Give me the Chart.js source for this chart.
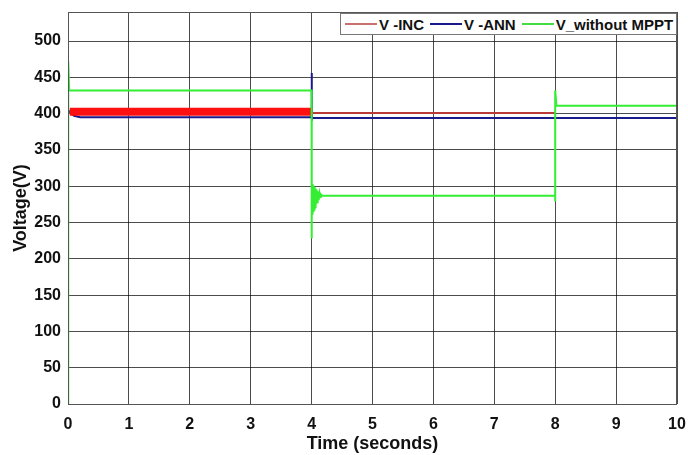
<!DOCTYPE html>
<html>
<head>
<meta charset="utf-8">
<script src="https://cdn.jsdelivr.net/npm/chart.js@4.4.0/dist/chart.umd.min.js"></script>
<style>
    html, body { margin: 0; padding: 0; background: #fff; }
    #wrap { position: relative; width: 688px; height: 455px; }
    #legend {
        position: absolute; left: 340px; top: 13px; width: 337px; height: 22px;
        border: 1px solid #777; background: #fff; box-sizing: border-box;
        font: bold 15px "Liberation Sans", Arial, sans-serif; color: #111;
        display: flex; align-items: center; white-space: nowrap;
    }
    #legend .sw { display: inline-block; width: 32px; height: 0; border-top: 2px solid; margin: 0 2px 0 4px; }
</style>
</head>
<body>
<div id="wrap">
    <canvas id="voltChart" width="688" height="455"></canvas>
    <div id="legend">
        <span class="sw" style="border-color:#c87070"></span>V -INC
        <span class="sw" style="border-color:#1a1a8c; margin-left:6px"></span>V -ANN
        <span class="sw" style="border-color:#44dd44; margin-left:6px"></span>V_without MPPT
    </div>
</div>
<script>
// values
const xTicks = [0, 1, 2, 3, 4, 5, 6, 7, 8, 9, 10];
const yTicks = [0, 50, 100, 150, 200, 250, 300, 350, 400, 450, 500];

// V -INC : thick oscillating band up to 4 s, then flat until 8 s
const incBandT = [0.03, 4.0];
const incBandV = [402.5, 402.5];
const incT = [4.0, 8.0];
const incV = [401, 401];

// V -ANN
const annT = [0, 0.05, 0.1, 0.2, 3.995, 4.0, 4.006, 8.0, 10];
const annV = [405, 400, 397, 395, 395, 456, 394, 394, 394];

// V_without MPPT (dense ringing after the 4 s step)
const woT = [0, 0.004, 0.02, 4.0, 4.0,
    4.004, 4.008, 4.012, 4.016, 4.02, 4.024, 4.028, 4.032, 4.036, 4.04,
    4.044, 4.048, 4.052, 4.056, 4.06, 4.064, 4.068, 4.072, 4.076, 4.08,
    4.085, 4.09, 4.095, 4.1, 4.105, 4.11, 4.115, 4.12, 4.13, 4.14, 4.15, 4.17,
    8.0, 8.0, 8.0, 8.02, 10];
const woV = [0, 472, 432, 432, 228,
    305, 262, 303, 264, 302, 266, 301, 267, 300, 268,
    299, 270, 298, 271, 297, 273, 296, 274, 295, 276,
    294, 278, 293, 280, 292, 282, 291, 283, 290, 285, 289, 287,
    287, 279, 432, 411, 411];

const pts = (t, v) => t.map((x, i) => ({ x: x, y: v[i] }));

const frame = {
    id: 'frame',
    afterDraw(chart) {
        const a = chart.chartArea, c = chart.ctx;
        c.save();
        c.strokeStyle = '#555';
        c.lineWidth = 1;
        c.strokeRect(a.left + 0.5, a.top + 0.5, a.right - a.left - 1, a.bottom - a.top);
        c.restore();
    }
};

const ctx = document.getElementById('voltChart').getContext('2d');
new Chart(ctx, {
    type: 'line',
    data: {
        datasets: [
            { label: 'V_without MPPT', data: pts(woT, woV), borderColor: '#33ee33', borderWidth: 2, order: 0 },
            { label: 'V -INC band', data: pts(incBandT, incBandV), borderColor: '#ff1010', borderWidth: 8, order: 1 },
            { label: 'V -INC', data: pts(incT, incV), borderColor: '#b83a3a', borderWidth: 2, order: 1 },
            { label: 'V -ANN', data: pts(annT, annV), borderColor: '#1a1a8c', borderWidth: 2, order: 2 }
        ]
    },
    options: {
        responsive: false,
        animation: false,
        elements: { point: { radius: 0 }, line: { tension: 0 } },
        layout: { padding: { top: 12, right: 11, left: 0, bottom: 0 } },
        plugins: { legend: { display: false }, tooltip: { enabled: false } },
        scales: {
            x: {
                type: 'linear', min: 0, max: 10,
                afterBuildTicks: (axis) => { axis.ticks = xTicks.map(v => ({ value: v })); },
                afterFit: (scale) => { scale.height = 51; scale.paddingRight = 0; scale.paddingLeft = 0; },
                grid: { color: 'rgba(0,0,0,0.7)', drawTicks: false },
                border: { display: false },
                ticks: { color: '#111', padding: 11, maxRotation: 0, font: { family: 'Liberation Sans', size: 16, weight: 'bold' } },
                title: { display: true, text: 'Time (seconds)', color: '#111', padding: { top: 0, bottom: 0 }, font: { family: 'Liberation Sans', size: 18, weight: 'bold' } }
            },
            y: {
                type: 'linear', min: 0, max: 540,
                afterBuildTicks: (axis) => { axis.ticks = yTicks.map(v => ({ value: v })); },
                afterFit: (scale) => { scale.width = 68; scale.paddingTop = 0; scale.paddingBottom = 0; },
                grid: { color: 'rgba(0,0,0,0.7)', drawTicks: false },
                border: { display: false },
                ticks: { color: '#111', padding: 7, font: { family: 'Liberation Sans', size: 16, weight: 'bold' } },
                title: { display: true, text: 'Voltage(V)', color: '#111', padding: { top: 10, bottom: 0 }, font: { family: 'Liberation Sans', size: 18, weight: 'bold' } }
            }
        }
    },
    plugins: [frame]
});
</script>
</body>
</html>
